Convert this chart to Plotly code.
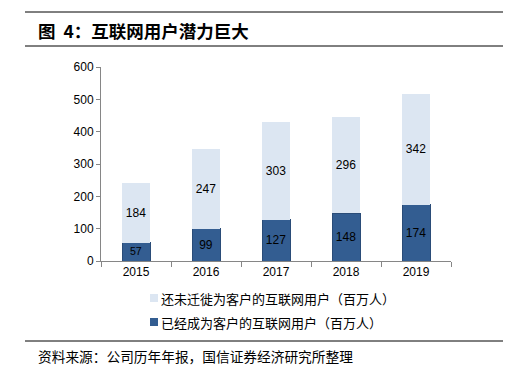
import plotly.graph_objects as go

years = ["2015", "2016", "2017", "2018", "2019"]
converted = [57, 99, 127, 148, 174]
not_converted = [184, 247, 303, 296, 342]
name_conv = "已经成为客户的互联网用户（百万人）"
name_not = "还未迁徙为客户的互联网用户（百万人）"
title_text = "图  4：互联网用户潜力巨大"
source_text = "资料来源：公司历年年报，国信证券经济研究所整理"

color_conv = "#335D91"
color_not = "#DCE6F2"

# page body adds an 8px offset; work in reference pixel coordinates
OFF = 8
W, H = 513 - OFF, 372 - OFF
L, R, T, B = 101 - OFF, 451 - OFF, 67 - OFF, 261 - OFF

def px(x):
    return (x - OFF - L) / (R - L)

def py(y):
    return (B - (y - OFF)) / (B - T)

cjk = "Noto Sans CJK SC"
num_font = "Liberation Sans, Arial"
fig = go.Figure()
fig.add_trace(go.Bar(
    x=years, y=converted, name=name_conv,
    marker=dict(color=color_conv, line=dict(color="#2A4C78", width=1)),
    text=converted, textposition="inside", insidetextanchor="middle", textangle=0,
    textfont=dict(family=num_font, size=12, color="#000000"),
    width=0.4,
))
fig.add_trace(go.Bar(
    x=years, y=not_converted, name=name_not,
    marker=dict(color=color_not, line=dict(width=0)),
    text=not_converted, textposition="inside", insidetextanchor="middle", textangle=0,
    textfont=dict(family=num_font, size=12, color="#000000"),
    width=0.4,
))

shapes = []
for yy in (12, 46, 341):
    shapes.append(dict(type="line", xref="paper", yref="paper",
                       x0=px(25), x1=px(503), y0=py(yy), y1=py(yy),
                       line=dict(color="#000000", width=1)))

annotations = [
    dict(text="<b>" + title_text + "</b>", xref="paper", yref="paper",
         x=px(36), y=py(30), xanchor="left", yanchor="middle", showarrow=False,
         font=dict(family=cjk, size=17.5, color="#000000")),
    dict(text=source_text, xref="paper", yref="paper",
         x=px(36), y=py(356), xanchor="left", yanchor="middle", showarrow=False,
         font=dict(family=cjk, size=13.7, color="#000000")),
]

# manual legend
for (label, col, yy) in ((name_not, color_not, 298), (name_conv, color_conv, 322)):
    shapes.append(dict(type="rect", xref="paper", yref="paper",
                       x0=px(150), x1=px(158), y0=py(yy - 4), y1=py(yy + 4),
                       fillcolor=col, line=dict(width=0)))
    annotations.append(dict(text=label, xref="paper", yref="paper",
                            x=px(159), y=py(yy), xanchor="left", yanchor="middle",
                            showarrow=False,
                            font=dict(family=cjk, size=13, color="#000000")))

fig.update_layout(
    width=W, height=H,
    margin=dict(l=L, r=W - R, t=T, b=H - B, pad=0, autoexpand=False),
    barmode="stack", bargap=0.6,
    plot_bgcolor="#FFFFFF", paper_bgcolor="#FFFFFF",
    showlegend=False,
    shapes=shapes, annotations=annotations,
    font=dict(family=num_font, size=12, color="#000000"),
)
fig.update_xaxes(showline=True, linecolor="#868686", linewidth=1,
                 ticks="outside", tickson="boundaries", ticklen=5, tickcolor="#868686",
                 tickfont=dict(family=num_font, size=12, color="#000000"),
                 showgrid=False)
fig.update_yaxes(range=[0, 600], dtick=100, showline=True, linecolor="#868686", linewidth=1,
                 ticks="outside", ticklen=4, tickcolor="#868686",
                 tickfont=dict(family=num_font, size=12, color="#000000"),
                 showgrid=False, zeroline=False)

fig.write_html("out.html")
